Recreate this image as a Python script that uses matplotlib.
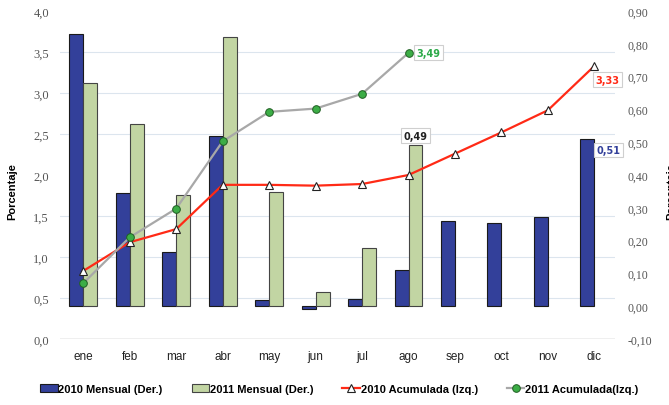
import numpy as np
import matplotlib
matplotlib.use("Agg")
import matplotlib.pyplot as plt
from matplotlib.ticker import FuncFormatter, FixedLocator

meses = ['ene', 'feb', 'mar', 'abr', 'may', 'jun', 'jul', 'ago', 'sep', 'oct', 'nov', 'dic']
# mensual, eje derecho
mensual_2010 = [0.83, 0.345, 0.165, 0.52, 0.02, -0.01, 0.022, 0.11, 0.26, 0.254, 0.273, 0.51]
mensual_2011 = [0.68, 0.556, 0.34, 0.822, 0.347, 0.043, 0.178, 0.49]
# acumulada, eje izquierdo
acum_2010 = [0.83, 1.18, 1.34, 1.88, 1.88, 1.87, 1.89, 2.0, 2.26, 2.52, 2.79, 3.33]
acum_2011 = [0.68, 1.24, 1.59, 2.41, 2.77, 2.81, 2.99, 3.49]

azul = '#33409a'
verde = '#c2d5a3'
rojo = '#ff2a16'
gris = '#a8a8a8'
verde_pt = '#3cad46'

fig = plt.figure(figsize=(6.69, 4.06), dpi=100)
ax = fig.add_axes([0.0897, 0.1626, 0.83, 0.8078])   # barras (der.)
ax2 = ax.twinx()                                     # lineas (izq.)

x = np.arange(len(meses))
w = 0.3
ax.bar(x - w / 2, mensual_2010, width=w, color=azul, edgecolor='#1a1a1a', linewidth=0.8,
       label='2010 Mensual (Der.)', zorder=3)
ax.bar(x[:len(mensual_2011)] + w / 2, mensual_2011, width=w, color=verde, edgecolor='#444444',
       linewidth=0.8, label='2011 Mensual (Der.)', zorder=3)

ax2.plot(x, acum_2010, color=rojo, lw=1.6, marker='^', ms=6, mfc='white', mec='#222222',
         mew=0.8, label='2010 Acumulada (Izq.)')
ax2.plot(x[:len(acum_2011)], acum_2011, color=gris, lw=1.6, marker='o', ms=5.5, mfc=verde_pt,
         mec='#1f5e22', mew=0.7, label='2011 Acumulada(Izq.)')

ax.set_xlim(-0.5, 11.45)
ax.set_ylim(-0.1, 0.9)
ax2.set_ylim(0, 4.0)

# ticks: barras a la derecha, lineas a la izquierda
ax.yaxis.tick_right()
ax2.yaxis.tick_left()
ax.set_yticks(np.arange(-0.1, 0.901, 0.1))
ax2.set_yticks(np.arange(0, 4.01, 0.5))
ax.yaxis.set_major_formatter(FuncFormatter(lambda v, p: f'{v:.2f}'.replace('.', ',').replace('-0,00', '0,00')))
ax2.yaxis.set_major_formatter(FuncFormatter(lambda v, p: f'{v:.1f}'.replace('.', ',')))

# lineas de grilla del eje izquierdo, detras de las barras
grid_izq = np.arange(0.5, 4.01, 0.5)
ax.yaxis.set_minor_locator(FixedLocator((grid_izq - 0.4) / 4))
ax.grid(which='minor', axis='y', color='#dce5ee', lw=0.8, zorder=0)
ax.set_axisbelow(True)

for t in ax.get_yticklabels():
    t.set_fontfamily('Liberation Serif')
    t.set_fontsize(8.5)
    t.set_color('#555555')
for t in ax2.get_yticklabels():
    t.set_fontfamily('Liberation Serif')
    t.set_fontsize(9)
    t.set_color('#555555')
ax.tick_params(axis='y', which='both', length=0, pad=9)
ax2.tick_params(axis='y', length=0, pad=8)
ax.set_xticks(x)
ax.set_xticklabels(meses, fontsize=8.5, color='#222222', family='Liberation Sans')
ax.tick_params(axis='x', length=0, pad=8)

for a in (ax, ax2):
    for s in ('top', 'left', 'right', 'bottom'):
        a.spines[s].set_visible(False)
ax.axhline(-0.1, color='#b0b0b0', lw=1.0, zorder=1)

fig.text(0.018, 0.527, 'Porcentaje', rotation=90, ha='center', va='center',
         fontsize=8, fontweight='bold', family='Liberation Sans')
fig.text(1.004, 0.527, 'Porcentaje', rotation=90, ha='center', va='center',
         fontsize=8, fontweight='bold', family='Liberation Sans')

caja = dict(boxstyle='square,pad=0.25', fc='white', ec='#cfcfcf', lw=0.8)
ax2.annotate(f'{acum_2011[-1]:.2f}'.replace('.', ','), (x[7], acum_2011[-1]), xytext=(6, 0),
             textcoords='offset points', ha='left', va='center', color='#2daa4a',
             fontsize=7, fontweight='bold', bbox=caja)
ax2.annotate(f'{acum_2010[-1]:.2f}'.replace('.', ','), (x[11], acum_2010[-1]), xytext=(1, -10),
             textcoords='offset points', ha='left', va='center', color=rojo,
             fontsize=7, fontweight='bold', bbox=caja)
ax.annotate(f'{mensual_2011[7]:.2f}'.replace('.', ','), (x[7] + w / 2, mensual_2011[7]), xytext=(0, 7),
            textcoords='offset points', ha='center', va='center', color='#222222',
            fontsize=7, fontweight='bold', bbox=caja, zorder=5)
ax.annotate(f'{mensual_2010[11]:.2f}'.replace('.', ','), (x[11], mensual_2010[11]), xytext=(1.5, -8),
            textcoords='offset points', ha='left', va='center', color=azul,
            fontsize=7, fontweight='bold', bbox=caja, zorder=5)

h1, l1 = ax.get_legend_handles_labels()
h2, l2 = ax2.get_legend_handles_labels()
fig.legend(h1 + h2, l1 + l2, loc='center', bbox_to_anchor=(0.507, 0.039), ncol=4, frameon=False,
           prop={'family': 'Liberation Sans', 'size': 8, 'weight': 'bold'},
           handlelength=1.6, handletextpad=0.05, columnspacing=2.6)

fig.savefig('out.png', dpi=100)
